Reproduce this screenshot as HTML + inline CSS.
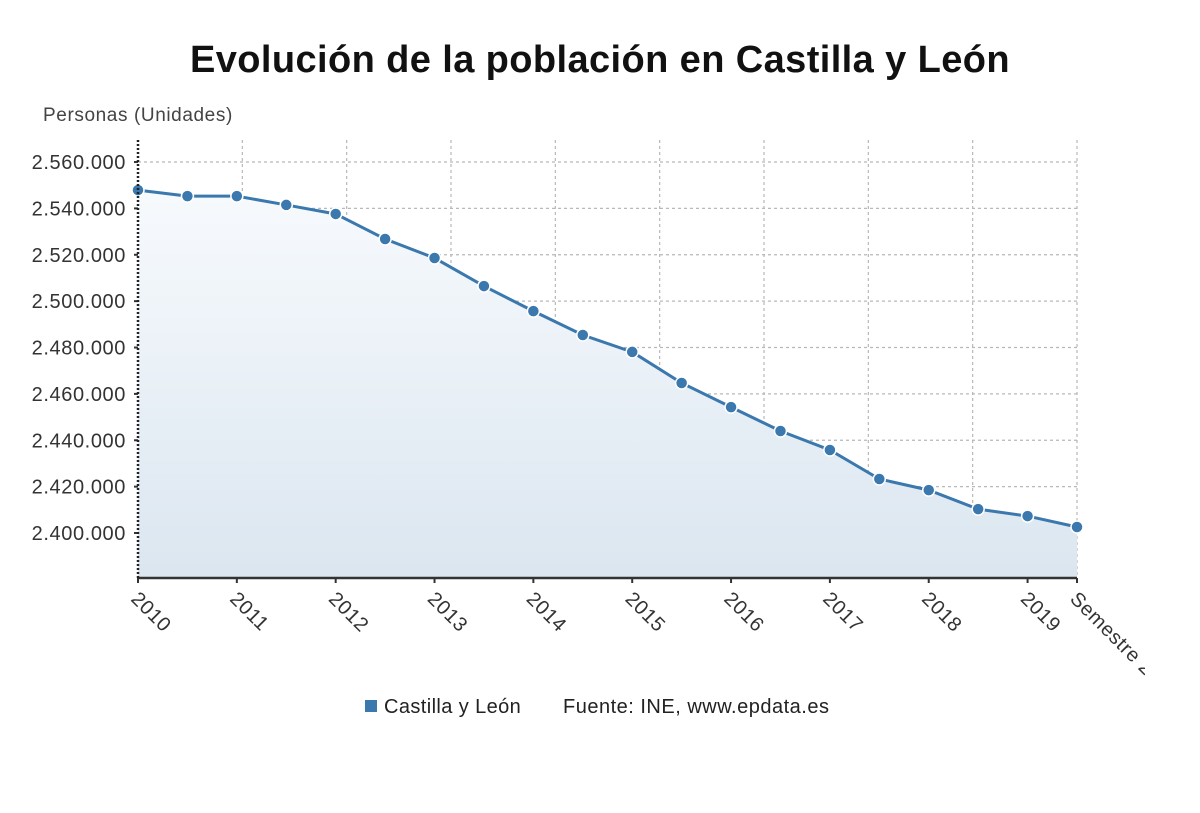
<!DOCTYPE html>
<html><head><meta charset="utf-8"><style>
body{margin:0;background:#fff;width:1200px;height:808px;overflow:hidden;font-family:"Liberation Sans",sans-serif}
</style></head><body>
<svg width="1200" height="808" xmlns="http://www.w3.org/2000/svg">
<defs><linearGradient id="g" x1="0" y1="0" x2="0" y2="1"><stop offset="0" stop-color="#f7fafd"/><stop offset="1" stop-color="#dbe6f0"/></linearGradient>
<clipPath id="clip"><rect x="0" y="0" width="1145" height="808"/></clipPath></defs>
<text x="600" y="72" text-anchor="middle" font-size="38" font-weight="bold" fill="#111" letter-spacing="0.4">Evolución de la población en Castilla y León</text>
<text x="43" y="121" font-size="19" fill="#444" letter-spacing="0.6">Personas (Unidades)</text>
<g id="grid"></g><g id="plot"></g><g id="axes" clip-path="url(#clip)"></g>
<g>
<rect x="365" y="700" width="12" height="12" fill="#3a78ae"/>
<text x="384" y="713" font-size="20" fill="#222" letter-spacing="0.4">Castilla y León</text>
<text x="563" y="713" font-size="20" fill="#222" letter-spacing="0.5">Fuente: INE, www.epdata.es</text>
</g>
</svg>
<script>
const categories=["2010","2010 S2","2011","2011 S2","2012","2012 S2","2013","2013 S2","2014","2014 S2","2015","2015 S2","2016","2016 S2","2017","2017 S2","2018","2018 S2","2019","2019 S2"];
const xTickLabels=["2010","2011","2012","2013","2014","2015","2016","2017","2018","2019","Semestre 2"];
const values=[2547900,2545300,2545300,2541500,2537600,2526800,2518600,2506500,2495700,2485400,2478100,2464700,2454300,2444000,2435800,2423300,2418500,2410300,2407300,2402600];
const yTicks=[2400000,2420000,2440000,2460000,2480000,2500000,2520000,2540000,2560000];
const NS="http://www.w3.org/2000/svg";
const L=138,R=1077,T=140,B=578,yMin=2380600,yMax=2569500;
const x=i=>L+(R-L)*i/(categories.length-1);
const y=v=>B-(v-yMin)/(yMax-yMin)*(B-T);
const fmt=v=>String(v).replace(/\B(?=(\d{3})+(?!\d))/g,".");
function mk(tag,attrs,parent){const e=document.createElementNS(NS,tag);for(const k in attrs)e.setAttribute(k,attrs[k]);parent.appendChild(e);return e;}
const grid=document.getElementById('grid'),plot=document.getElementById('plot'),axes=document.getElementById('axes');
yTicks.forEach(v=>{
 const l=mk('line',{x1:L,x2:R,y1:y(v),y2:y(v),stroke:'#b8b8b8','stroke-dasharray':'3,3','stroke-width':1.2},grid);
 
 
 const t=mk('text',{x:L-12,y:y(v)+7,'text-anchor':'end','font-size':20,fill:'#333','letter-spacing':0.6},axes);
 t.textContent=fmt(v);
 
 
 mk('line',{x1:L-4,x2:L,y1:y(v),y2:y(v),stroke:'#333','stroke-width':2},axes);
});
for(let k=1;k<=9;k++){
 const gx=L+(R-L)*k/9;
 const l=mk('line',{x1:gx,x2:gx,y1:T,y2:B,stroke:'#b8b8b8','stroke-dasharray':'3,3','stroke-width':1.2},grid);
 
 
}
let d='M'+x(0)+','+B;values.forEach((v,i)=>d+=' L'+x(i)+','+y(v));d+=' L'+x(values.length-1)+','+B+' Z';
const area=mk('path',{d:d,fill:'url(#g)'},plot);


const line=mk('polyline',{points:values.map((v,i)=>x(i)+','+y(v)).join(' '),fill:'none',stroke:'#3a78ae','stroke-width':3},plot);


values.forEach((v,i)=>{
 const c=mk('circle',{cx:x(i),cy:y(v),r:6,fill:'#3a78ae',stroke:'#fff','stroke-width':1.5},plot);
 
 
});
const ax=mk('line',{x1:L,x2:R,y1:B,y2:B,stroke:'#333','stroke-width':2.5},axes);


const ay=mk('line',{x1:L,x2:L,y1:T,y2:B,stroke:'#222','stroke-width':2.5,'stroke-dasharray':'2,2'},axes);


xTickLabels.forEach((lab,k)=>{
 const i=k<10?k*2:categories.length-1;
 const tx=x(i);
 mk('line',{x1:tx,x2:tx,y1:B,y2:B+5,stroke:'#333','stroke-width':2},axes);
 const t=mk('text',{x:tx-8,y:B+22,'font-size':20,fill:'#333','letter-spacing':0.6,transform:'rotate(45 '+(tx-8)+' '+(B+22)+')'},axes);
 t.textContent=lab;
 
 
});
</script>
</body></html>
